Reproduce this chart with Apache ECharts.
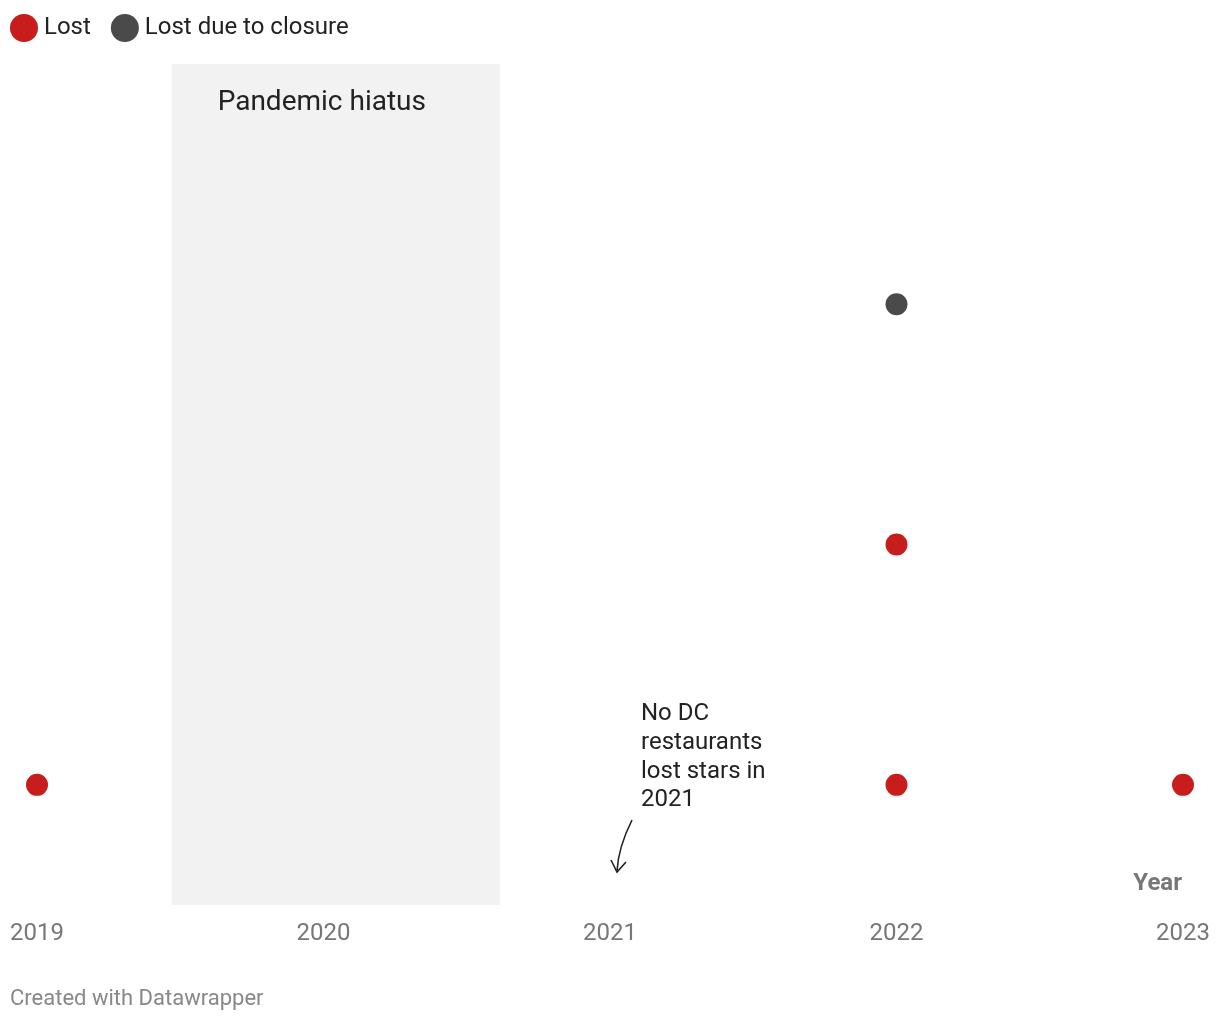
<!DOCTYPE html>
<html><head><meta charset="utf-8">
<script src="https://cdn.jsdelivr.net/npm/echarts@6/dist/echarts.min.js"></script>
<style>html,body{margin:0;padding:0;background:#fff}#c{width:1220px;height:1022px}</style>
</head><body><div id="c"></div>
<script>
const years = [2019, 2020, 2021, 2022, 2023];
const lostData = [[2019, 1], [2022, 1], [2022, 2], [2023, 1]];
const closureData = [[2022, 3]];
const hiatus = [2019.47, 2020.615];
const seriesNames = ['Lost', 'Lost due to closure'];

const chart = echarts.init(document.getElementById('c'));
const font = 'Roboto, "Noto Sans", sans-serif';
chart.setOption({
  animation: false,
  textStyle: {fontFamily: font},
  legend: {
    left: 10, top: 14, padding: 0, itemWidth: 28, itemHeight: 28, itemGap: 20,
    icon: 'circle',
    textStyle: {fontSize: 24, color: '#222', fontFamily: font, padding: [0, 0, 0, 1]},
    data: seriesNames
  },
  grid: {left: 37, right: 37, top: 64, bottom: 117},
  xAxis: {
    type: 'value', min: 2019, max: 2023, interval: 1,
    axisLine: {show: false}, axisTick: {show: false}, splitLine: {show: false},
    axisLabel: {fontSize: 24, color: '#777', margin: 17, fontFamily: font, formatter: v => String(v)}
  },
  yAxis: {type: 'value', min: 0.5, max: 4, show: false, splitLine: {show: false}},
  series: [
    {
      name: seriesNames[0], type: 'scatter', symbolSize: 22,
      itemStyle: {color: '#c71e1d', opacity: 1},
      data: lostData,
      markArea: {
        silent: true,
        itemStyle: {color: '#f2f2f2'},
        label: {show: true, position: [46, 25], fontSize: 28, color: '#222', fontFamily: font},
        data: [[{name: 'Pandemic hiatus', xAxis: hiatus[0], yAxis: 4}, {xAxis: hiatus[1], yAxis: 0.5}]]
      },
      z: 3
    },
    {
      name: seriesNames[1], type: 'scatter', symbolSize: 22,
      itemStyle: {color: '#4a4a4a', opacity: 1},
      data: closureData, z: 3
    }
  ],
  graphic: [
    {type: 'text', left: 641, top: 700, style: {text: 'No DC\nrestaurants\nlost stars in\n2021', font: '24px ' + font, fill: '#222', lineHeight: 28.7}},
    {type: 'bezierCurve', shape: {x1: 632, y1: 820, x2: 617, y2: 871, cpx1: 624, cpy1: 836, cpx2: 618, cpy2: 852}, style: {stroke: '#222', lineWidth: 1.6, fill: null}},
    {type: 'polyline', shape: {points: [[611, 860], [617, 872], [626, 862]]}, style: {stroke: '#222', lineWidth: 1.6, fill: null}},
    {type: 'text', right: 38, top: 872, style: {text: 'Year', font: 'bold 24px ' + font, fill: '#777'}},
    {type: 'text', left: 10, top: 988, style: {text: 'Created with Datawrapper', font: '22px ' + font, fill: '#888'}}
  ]
});
</script></body></html>
